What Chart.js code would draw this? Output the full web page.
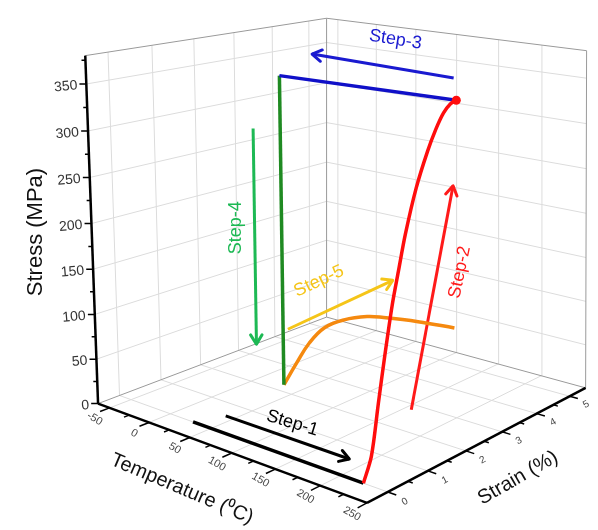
<!DOCTYPE html>
<html>
<head>
<meta charset="utf-8">
<script src="https://cdn.jsdelivr.net/npm/chart.js@4.4.1/dist/chart.umd.min.js"></script>
<style>
    body { margin: 0; background: #fff; }
    #wrap { width: 598px; height: 530px; }
</style>
</head>
<body>
<div id="wrap"><canvas id="chart"></canvas></div>
<script>
// Axis ranges (Temperature, Strain, Stress)
const tempRange = [-65, 250];
const strainRange = [-0.5, 5.5];
const stressRange = [0, 380];

const tempTicks = [-50, 0, 50, 100, 150, 200, 250];
const strainTicks = [0, 1, 2, 3, 4, 5];
const stressTicks = [0, 50, 100, 150, 200, 250, 300, 350];

// Step-1: heating without load
const step1Temp = [28, 224];
const step1Strain = [0, 0];
const step1Stress = [0, 0];

// Step-2: loading at high temperature
const step2Temp = 224;
const step2Strain = [0, 0.2, 0.38, 0.55, 0.74, 0.9, 1.08, 1.36, 1.66, 1.88, 2.08, 2.26, 2.42];
const step2Stress = [0, 24, 75, 122, 170, 202, 237, 280, 314, 334, 348, 355, 357];

// Step-3: cooling under constant load
const step3Temp = [224, 29];
const step3Strain = [2.42, 2.25];
const step3Stress = [357, 352];

// Step-4: unloading
const step4Temp = 29;
const step4Strain = 2.25;
const step4Stress = [352, 0];

// Step-5: heating with strain held
const step5Temp = [29, 45, 61, 80, 103, 130, 149, 188, 228];
const step5Strain = 2.25;
const step5Stress = [0, 30, 58, 81, 96, 107, 111, 117, 121];

// annotation arrows (T, strain, stress)
const arrows = [
    { color: '#000000', from: [40, 0.55, 0], to: [184, 0.55, 0] },
    { color: '#ff1a1a', from: [225, 1.18, 53], to: [225, 2.3, 270] },
    { color: '#1a1ad0', from: [218, 2.5, 378], to: [57, 2.5, 378] },
    { color: '#1db954', from: [-17, 2.5, 282], to: [-17, 2.5, 30] },
    { color: '#f5c518', from: [23, 2.5, 59], to: [149, 2.5, 148] }
];

const stepLabels = [
    { text: 'Step-1', at: [146, 0, 37], rot: 17, color: '#000000' },
    { text: 'Step-2', at: [228, 2.4, 178], rot: -78, color: '#ff1a1a' },
    { text: 'Step-3', at: [154, 2.5, 408], rot: 9, color: '#1a1ad0' },
    { text: 'Step-4', at: [-41, 2.5, 162], rot: -90, color: '#1db954' },
    { text: 'Step-5', at: [62, 2.5, 125], rot: -25, color: '#f5c518' }
];

// screen corners of the 3D box (u = temp, v = strain, h = stress)
const corners = [
    [0, 0, 0, 95, 406],
    [1, 0, 0, 368, 507],
    [0, 1, 0, 327, 318],
    [1, 1, 0, 590, 390],
    [0, 0, 1, 82, 52],
    [1, 0, 1, 365, 114],
    [0, 1, 1, 327, 14],
    [1, 1, 1, 591, 47]
];

function depth(u, v, h) {
    return 1 - 0.10 * u + 0.14 * v - 0.035 * h;
}

function project(T, e, p) {
    const u = (T - tempRange[0]) / (tempRange[1] - tempRange[0]);
    const v = (e - strainRange[0]) / (strainRange[1] - strainRange[0]);
    const h = (p - stressRange[0]) / (stressRange[1] - stressRange[0]);
    let sx = 0, sy = 0, sw = 0;
    corners.forEach(([cu, cv, ch, px, py]) => {
        const b = (cu ? u : 1 - u) * (cv ? v : 1 - v) * (ch ? h : 1 - h) * depth(cu, cv, ch);
        sx += b * px;
        sy += b * py;
        sw += b;
    });
    return { x: sx / sw, y: sy / sw };
}

function line3d(pts, color, width, order, extra) {
    return Object.assign({
        data: pts.map(q => project(q[0], q[1], q[2])),
        showLine: true,
        borderColor: color,
        backgroundColor: color,
        borderWidth: width,
        pointRadius: 0,
        fill: false,
        tension: 0,
        order: order
    }, extra || {});
}

const datasets = [];
const T0 = tempRange[0], T1 = tempRange[1];
const E0 = strainRange[0], E1 = strainRange[1];
const P0 = stressRange[0], P1 = stressRange[1];
const gridColor = '#dcdcdc';
const edgeColor = '#9a9a9a';

// grid: floor
tempTicks.slice(0, -1).forEach(t => datasets.push(line3d([[t, E0, 0], [t, E1, 0]], gridColor, 1, 20)));
strainTicks.forEach(e => datasets.push(line3d([[T0, e, 0], [T1, e, 0]], gridColor, 1, 20)));
// grid: left wall (T = min)
strainTicks.forEach(e => datasets.push(line3d([[T0, e, P0], [T0, e, P1]], gridColor, 1, 20)));
stressTicks.slice(1).forEach(p => datasets.push(line3d([[T0, E0, p], [T0, E1, p]], gridColor, 1, 20)));
// grid: back wall (strain = max)
tempTicks.slice(0, -1).forEach(t => datasets.push(line3d([[t, E1, P0], [t, E1, P1]], gridColor, 1, 20)));
stressTicks.slice(1).forEach(p => datasets.push(line3d([[T0, E1, p], [T1, E1, p]], gridColor, 1, 20)));

// box edges
[
    [[T0, E0, 0], [T0, E1, 0]],
    [[T0, E1, 0], [T1, E1, 0]],
    [[T0, E1, 0], [T0, E1, P1]],
    [[T1, E1, 0], [T1, E1, P1]],
    [[T0, E0, P1], [T0, E1, P1]],
    [[T0, E1, P1], [T1, E1, P1]]
].forEach(seg => datasets.push(line3d(seg, edgeColor, 1, 15)));

// axes
datasets.push(line3d([[T0, E0, 0], [T0, E0, P1]], '#000', 2.5, 10));
datasets.push(line3d([[T0, E0, 0], [T1, E0, 0]], '#000', 2.5, 10));
datasets.push(line3d([[T1, E0, 0], [T1, E1, 0]], '#000', 2.5, 10));

// axis tick marks
for (let p = 0; p <= 375; p += 25) {
    const a = project(T0, E0, p);
    const len = p % 50 === 0 ? 7 : 4;
    datasets.push({ data: [a, { x: a.x - len, y: a.y }], showLine: true, borderColor: '#000', borderWidth: 1.5, pointRadius: 0, order: 10 });
}
for (let t = -50; t <= 250; t += 25) {
    const len = t % 50 === 0 ? 0.22 : 0.12;
    datasets.push(line3d([[t, E0, 0], [t, E0 - len, 0]], '#000', 1.5, 10));
}
for (let e = 0; e <= 5; e += 0.5) {
    const len = e % 1 === 0 ? 9 : 5;
    datasets.push(line3d([[T1, e, 0], [T1 + len, e, 0]], '#000', 1.5, 10));
}

// data lines
datasets.push(line3d(step1Temp.map((t, i) => [t, step1Strain[i], step1Stress[i]]), '#000000', 3.5, 2));
datasets.push(line3d(step2Strain.map((e, i) => [step2Temp, e, step2Stress[i]]), '#ff0d0d', 3.5, 1, { tension: 0.3 }));
datasets.push(line3d(step3Temp.map((t, i) => [t, step3Strain[i], step3Stress[i]]), '#1010c8', 3.5, 2));
datasets.push(line3d(step4Stress.map(p => [step4Temp, step4Strain, p]), '#1f8a22', 3.5, 2));
datasets.push(line3d(step5Temp.map((t, i) => [t, step5Strain, step5Stress[i]]), '#f5890f', 3.5, 2, { tension: 0.4 }));
// end blob of the loading curve
datasets.push({ data: [project(step2Temp, step2Strain[step2Strain.length - 1], step2Stress[step2Stress.length - 1])], pointRadius: 4.5, backgroundColor: '#ff0d0d', borderWidth: 0, order: 0 });

// annotation arrows
arrows.forEach(a => datasets.push(line3d([a.from, a.to], a.color, 3, 3, { isArrow: true })));

const labelPlugin = {
    id: 'labels3d',
    afterDatasetsDraw(chart) {
        const ctx = chart.ctx;
        const xs = chart.scales.x, ys = chart.scales.y;
        const px = pt => ({ x: xs.getPixelForValue(pt.x), y: ys.getPixelForValue(pt.y) });

        // arrow heads
        chart.data.datasets.forEach((ds, i) => {
            if (!ds.isArrow) return;
            const pts = chart.getDatasetMeta(i).data;
            const a = pts[0], b = pts[1];
            const ang = Math.atan2(b.y - a.y, b.x - a.x);
            ctx.save();
            ctx.strokeStyle = ds.borderColor;
            ctx.lineWidth = 3;
            ctx.lineCap = 'round';
            ctx.lineJoin = 'round';
            ctx.beginPath();
            ctx.moveTo(b.x - 11 * Math.cos(ang - 0.55), b.y - 11 * Math.sin(ang - 0.55));
            ctx.lineTo(b.x, b.y);
            ctx.lineTo(b.x - 11 * Math.cos(ang + 0.55), b.y - 11 * Math.sin(ang + 0.55));
            ctx.stroke();
            ctx.restore();
        });

        function text(str, pt, rot, font, color, align) {
            ctx.save();
            ctx.translate(pt.x, pt.y);
            ctx.rotate(rot * Math.PI / 180);
            ctx.font = font;
            ctx.fillStyle = color;
            ctx.textAlign = align || 'center';
            ctx.textBaseline = 'middle';
            ctx.fillText(str, 0, 0);
            ctx.restore();
        }

        // tick labels
        stressTicks.forEach(p => {
            const a = px(project(T0, E0, p));
            text(String(p), { x: a.x - 9, y: a.y + 1.5 }, -5, '14px "Liberation Sans", Arial, sans-serif', '#333', 'right');
        });
        tempTicks.forEach(t => {
            const a = px(project(t, E0, 0));
            text(String(t), { x: a.x - 15, y: a.y + 11 }, 30, '11px "Liberation Sans", Arial, sans-serif', '#444');
        });
        strainTicks.forEach(e => {
            const a = px(project(T1 + 17, e, 0));
            text(String(e), { x: a.x + 1, y: a.y + 4 }, -28, '10px "Liberation Sans", Arial, sans-serif', '#444');
        });

        // axis titles
        text('Stress (MPa)', { x: 36, y: 232 }, -90, '22px "Liberation Sans", Arial, sans-serif', '#111');
        text('Temperature (\u2070C)', { x: 182, y: 489 }, 23, '20px "Liberation Sans", Arial, sans-serif', '#111');
        text('Strain (%)', { x: 518, y: 478 }, -30, '20px "Liberation Sans", Arial, sans-serif', '#111');

        // step labels
        stepLabels.forEach(l => {
            const p = l.at;
            text(l.text, px(project(p[0], p[1], p[2])), l.rot, '18px "Liberation Sans", Arial, sans-serif', l.color);
        });
    }
};

new Chart(document.getElementById('chart'), {
    type: 'scatter',
    data: { datasets: datasets },
    options: {
        responsive: true,
        maintainAspectRatio: false,
        animation: false,
        layout: { padding: 0 },
        plugins: {
            legend: { display: false },
            tooltip: { enabled: false }
        },
        scales: {
            x: { type: 'linear', min: 0, max: 598, display: false },
            y: { type: 'linear', min: 0, max: 530, reverse: true, display: false }
        }
    },
    plugins: [labelPlugin]
});
</script>
</body>
</html>
